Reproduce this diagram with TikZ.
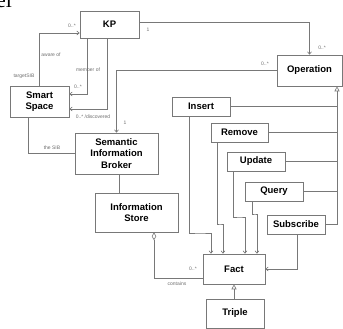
\documentclass[tikz,border=0pt]{standalone}
\usepackage{fontspec}
\setmainfont{Liberation Sans}
\newfontfamily\capfont{Liberation Serif}
\usetikzlibrary{arrows.meta}
\definecolor{linec}{RGB}{120,120,120}
\definecolor{labc}{RGB}{110,110,110}
\tikzset{
  box/.style={draw=linec, line width=0.6pt, fill=white, inner sep=0pt, align=center,
    font=\fontsize{9.5}{11.5}\selectfont\bfseries},
  conn/.style={draw=linec, line width=0.6pt},
  assoc/.style={conn, -{Straight Barb[length=2.5pt,width=4pt]}},
  gen/.style={conn, -{Triangle[open,length=5pt,width=5pt]}},
  agg/.style={conn, {Diamond[open,length=8pt,width=4.5pt]}-},
  lab/.style={text=labc, inner sep=0pt, font=\fontsize{5}{6}\selectfont},
}
\begin{document}
\begin{tikzpicture}[x=1pt,y=-1pt]
\useasboundingbox (0,0) rectangle (343,329);
% partially visible caption fragment
\node[anchor=base west, inner sep=0pt, font=\capfont\fontsize{22}{22}\selectfont] (cap) at (-4,8) {el};
% boxes
\node[box, minimum width=59pt, minimum height=27pt] (kp) at (109.5,24.5) {KP};
\node[box, minimum width=65pt, minimum height=31pt] (op) at (309.5,70.5) {Operation};
\node[box, minimum width=59pt, minimum height=31pt] (ss) at (39.5,101.5) {Smart\\Space};
\node[box, minimum width=83pt, minimum height=41pt] (sib) at (116.5,153.5) {Semantic\\Information\\Broker};
\node[box, minimum width=83pt, minimum height=39pt] (is) at (136.5,212.5) {Information\\Store};
\node[box, minimum width=58pt, minimum height=19pt] (ins) at (201,106.5) {Insert};
\node[box, minimum width=57pt, minimum height=19pt] (rem) at (239.5,132.5) {Remove};
\node[box, minimum width=58pt, minimum height=19pt] (upd) at (256,161.5) {Update};
\node[box, minimum width=58pt, minimum height=19pt] (qry) at (274,191.5) {Query};
\node[box, minimum width=58pt, minimum height=19pt] (sub) at (296,224.5) {Subscribe};
\node[box, minimum width=62pt, minimum height=30pt] (fact) at (234,269) {Fact};
\node[box, minimum width=58pt, minimum height=29pt] (tri) at (235,313.5) {Triple};
% KP -> Operation
\draw[assoc] (kp.east |- 0,22) -| (op.north);
\node[lab] (l1) at (148,30) {1};
\node[lab] (l2) at (322,48) {0..*};
% Operation -> SIB
\draw[assoc] (op.west) -| (sib.north);
\node[lab] (l3) at (265,64) {0..*};
\node[lab] (l4) at (125,123) {1};
% Smart Space -> KP (aware of)
\draw[assoc] (ss.north) |- (kp.west |- 0,33);
\node[lab] (l5) at (72,26) {0..*};
\node[lab] (l6) at (51,55) {aware of};
\node[lab] (l7) at (24,76) {targetSIB};
% KP -> Smart Space (member of)
\draw[assoc] (kp.south -| 87,0) |- (ss.east |- 0,94);
\node[lab] (l8) at (88,70) {member of};
\node[lab] (l9) at (78,87) {0..*};
% KP -> Smart Space (discovered)
\draw[assoc] (kp.south -| 107,0) |- (ss.east |- 0,109);
\node[lab] (l10) at (93,117) {0..* /discovered};
% Smart Space - SIB
\draw[conn] (ss.south -| 28,0) |- (sib.west);
\node[lab] (l11) at (52,148) {the SIB};
% SIB - Information Store
\draw[conn] (sib.south -| 119,0) -- (is.north -| 119,0);
% Information Store <>- Fact
\draw[agg] (is.south -| 154,0) |- (fact.west |- 0,278);
\node[lab] (l12) at (193,269) {0..*};
\node[lab] (l13) at (177,284) {contains};
% Triple -|> Fact
\draw[gen] (tri.north -| 234,0) -- (fact.south -| 234,0);
% generalization to Operation
\draw[gen] (sub.east) -| (op.south -| 337,0);
\draw[conn] (ins.east) -- (ins.east -| 337,0);
\draw[conn] (rem.east) -- (rem.east -| 337,0);
\draw[conn] (upd.east) -- (upd.east -| 337,0);
\draw[conn] (qry.east) -- (qry.east -| 337,0);
% operations -> Fact
\draw[assoc] (ins.south -| 189,0) |- (200,233) -| (fact.north -| 211,0);
\draw[assoc] (rem.south -| 217,0) |- (220,224) -| (fact.north -| 223,0);
\draw[assoc] (upd.south -| 233,0) |- (240,217) -| (fact.north -| 245,0);
\draw[assoc] (qry.south -| 252,0) |- (255,214) -| (fact.north -| 257,0);
\draw[assoc] (sub.south -| 297,0) |- (fact.east);
\end{tikzpicture}
\end{document}
